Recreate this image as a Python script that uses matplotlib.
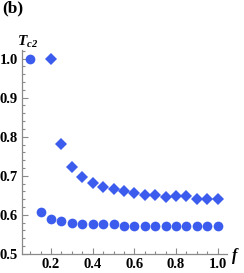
import numpy as np
import matplotlib.pyplot as plt
from matplotlib.ticker import MultipleLocator

# data
f_circ = [0.10, 0.15, 0.20, 0.25, 0.30, 0.35, 0.40, 0.45, 0.50, 0.55,
          0.60, 0.65, 0.70, 0.75, 0.80, 0.85, 0.90, 0.95, 1.00]
tc_circ = [1.000, 0.606, 0.590, 0.585, 0.580, 0.576, 0.576, 0.576, 0.576, 0.572,
           0.572, 0.572, 0.572, 0.572, 0.572, 0.572, 0.572, 0.572, 0.572]

f_diam = [0.20, 0.25, 0.30, 0.35, 0.40, 0.45, 0.50, 0.55, 0.60, 0.65,
          0.70, 0.75, 0.80, 0.85, 0.90, 0.95, 1.00]
tc_diam = [1.000, 0.782, 0.722, 0.697, 0.681, 0.671, 0.666, 0.661, 0.656, 0.650,
           0.650, 0.645, 0.647, 0.647, 0.640, 0.640, 0.641]

xticks = [0.2, 0.4, 0.6, 0.8, 1.0]
yticks = [0.5, 0.6, 0.7, 0.8, 0.9, 1.0]

blue = "#3b5cec"
axcol = "#8a8a8a"

plt.rcParams['font.family'] = 'Liberation Serif'
plt.rcParams['mathtext.fontset'] = 'custom'
plt.rcParams['mathtext.it'] = 'Liberation Serif:bold:italic'
plt.rcParams['mathtext.rm'] = 'Liberation Serif:bold:italic'

fig = plt.figure(figsize=(2.44, 2.73), dpi=100)
ax = fig.add_axes([0.09, 0.07, 0.84, 0.747])

ax.plot(f_circ, tc_circ, 'o', color=blue, markersize=7, markeredgewidth=0)
ax.plot(f_diam, tc_diam, 'D', color=blue, markersize=6.5, markeredgewidth=0)

ax.set_xlim(0.06, 1.045)
ax.set_ylim(0.5, 1.022)

for s in ['top', 'right']:
    ax.spines[s].set_visible(False)
for s in ['left', 'bottom']:
    ax.spines[s].set_color(axcol)
    ax.spines[s].set_linewidth(0.9)

ax.set_xticks(xticks)
ax.set_yticks(yticks)
ax.set_xticklabels([f"{v:.1f}" for v in xticks], fontweight='bold')
ax.set_yticklabels([f"{v:.1f}" for v in yticks], fontweight='bold')
ax.xaxis.set_minor_locator(MultipleLocator(0.05))
ax.yaxis.set_minor_locator(MultipleLocator(0.02))
ax.tick_params(which='both', direction='in', color=axcol, width=0.8, labelsize=10.5)
ax.tick_params(which='major', length=4, pad=3)
ax.tick_params(which='minor', length=2)

fig.text(2 / 244, 1.0, "(b)", fontsize=12.5, fontweight='bold', va='top', ha='left')
fig.text(17 / 244, 1 - 34 / 273, r"$T_{c2}$", fontsize=11, va='top', ha='left')
fig.text(232 / 244, 1 - 264 / 273, "f", fontsize=11.5, fontweight='bold',
         fontstyle='italic', va='bottom', ha='left')

fig.savefig("out.png", dpi=100)
